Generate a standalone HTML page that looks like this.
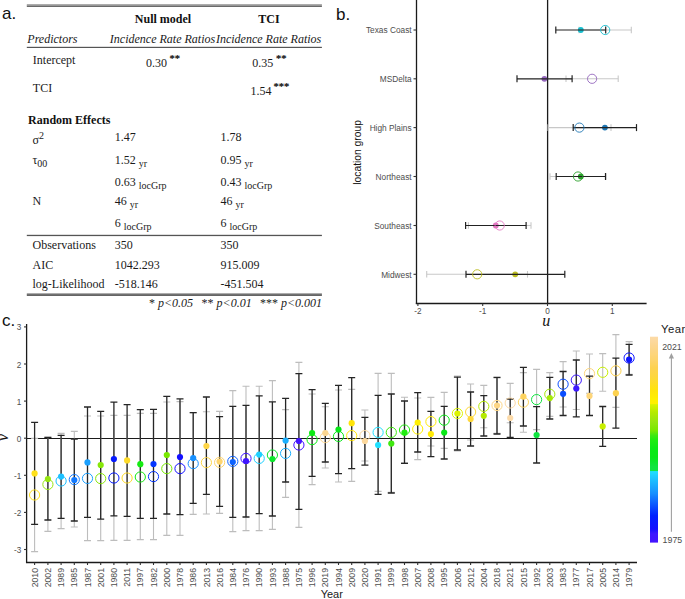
<!DOCTYPE html>
<html><head><meta charset="utf-8"><style>
html,body{margin:0;padding:0;background:#fff;width:685px;height:599px;overflow:hidden}
svg{display:block}
.t{font-family:"Liberation Serif",serif;font-size:12px;fill:#1a1a1a}
.tb{font-family:"Liberation Serif",serif;font-size:12px;font-weight:bold;fill:#111}
.ti{font-family:"Liberation Serif",serif;font-size:12px;font-style:italic;fill:#1a1a1a}
.ts{font-family:"Liberation Serif",serif;font-size:10.5px;fill:#1a1a1a;stroke:#1a1a1a;stroke-width:0.25}
.tf{font-family:"Liberation Serif",serif;font-size:12px;fill:#1a1a1a}
.lab{font-family:"Liberation Sans",sans-serif;font-size:17px;fill:#111}
.tk{font-family:"Liberation Sans",sans-serif;font-size:8.2px;fill:#4d4d4d}
.tk2{font-family:"Liberation Sans",sans-serif;font-size:8.7px;fill:#4d4d4d}
.tk3{font-family:"Liberation Sans",sans-serif;font-size:8.3px;fill:#4d4d4d}
.axt{font-family:"Liberation Serif",serif;font-size:16px;font-style:italic;fill:#111}
.axs{font-family:"Liberation Sans",sans-serif;font-size:10.3px;fill:#111}
.axs2{font-family:"Liberation Sans",sans-serif;font-size:11px;fill:#1a1a1a}
.ax{stroke:#1a1a1a;stroke-width:1.3;fill:none}
.tkl{stroke:#333;stroke-width:1.1}
</style></head><body>
<svg width="685" height="599" viewBox="0 0 685 599">
<text x="2" y="19" class="lab">a.</text>
<rect x="26.8" y="4.1" width="295.1" height="1.6" fill="#a3a3a3"/>
<rect x="26.8" y="5.6" width="295.1" height="1.3" fill="#5a5a5a"/>
<rect x="26.8" y="46.8" width="295.1" height="1.2" fill="#555"/>
<rect x="26.8" y="234.8" width="295.1" height="1.3" fill="#555"/>
<rect x="26.8" y="293.1" width="295.1" height="1.2" fill="#a3a3a3"/>
<rect x="26.8" y="294.2" width="295.1" height="1.7" fill="#555"/>
<text x="163" y="23.1" class="tb" text-anchor="middle">Null model</text>
<text x="269" y="23.1" class="tb" text-anchor="middle">TCI</text>
<text x="27.3" y="43" class="ti">Predictors</text>
<text x="162.5" y="43" class="ti" text-anchor="middle">Incidence Rate Ratios</text>
<text x="268.6" y="43" class="ti" text-anchor="middle">Incidence Rate Ratios</text>
<text x="32.8" y="64.1" class="t">Intercept</text>
<text x="145.9" y="66.9" class="t">0.30</text>
<text x="169.6" y="61.5" class="ts">**</text>
<text x="252.2" y="66.9" class="t">0.35</text>
<text x="275.9" y="61.5" class="ts">**</text>
<text x="32.8" y="92.1" class="t">TCI</text>
<text x="250.6" y="95" class="t">1.54</text>
<text x="273.4" y="89.5" class="ts">***</text>
<text x="28.1" y="124.1" class="tb">Random Effects</text>
<text x="32.5" y="143.7" class="t">σ<tspan dy="-5" font-size="10">2</tspan></text>
<text x="114.8" y="141.2" class="t">1.47</text>
<text x="220.6" y="141.2" class="t">1.78</text>
<text x="32.5" y="163.8" class="t">τ<tspan dy="3" font-size="10">00</tspan></text>
<text x="114.8" y="163.9" class="t">1.52 <tspan dy="3" font-size="10">yr</tspan></text>
<text x="220.6" y="163.9" class="t">0.95 <tspan dy="3" font-size="10">yr</tspan></text>
<text x="114.8" y="185.5" class="t">0.63 <tspan dy="3" font-size="10">locGrp</tspan></text>
<text x="220.6" y="185.5" class="t">0.43 <tspan dy="3" font-size="10">locGrp</tspan></text>
<text x="32.5" y="204.6" class="t">N</text>
<text x="114.8" y="204.6" class="t">46 <tspan dy="3" font-size="10">yr</tspan></text>
<text x="220.6" y="204.6" class="t">46 <tspan dy="3" font-size="10">yr</tspan></text>
<text x="114.8" y="226.8" class="t">6 <tspan dy="3" font-size="10">locGrp</tspan></text>
<text x="220.6" y="226.8" class="t">6 <tspan dy="3" font-size="10">locGrp</tspan></text>
<text x="32.5" y="249.4" class="t">Observations</text>
<text x="114.8" y="249.4" class="t">350</text>
<text x="220.6" y="249.4" class="t">350</text>
<text x="32.5" y="269" class="t">AIC</text>
<text x="114.8" y="269" class="t">1042.293</text>
<text x="220.6" y="269" class="t">915.009</text>
<text x="32.5" y="288.3" class="t">log-Likelihood</text>
<text x="114.8" y="288.3" class="t">-518.146</text>
<text x="220.6" y="288.3" class="t">-451.504</text>
<text x="149" y="307" class="tf">* <tspan font-style="italic">p&lt;0.05</tspan></text>
<text x="201.6" y="307" class="tf">** <tspan font-style="italic">p&lt;0.01</tspan></text>
<text x="260" y="307" class="tf">*** <tspan font-style="italic">p&lt;0.001</tspan></text>
<text x="336" y="19.5" class="lab">b.</text>
<line x1="416.5" y1="0" x2="416.5" y2="304.1" class="ax"/>
<line x1="415.85" y1="303.5" x2="646.6" y2="303.5" class="ax"/>
<line x1="547.6" y1="0" x2="547.6" y2="303.5" class="ax"/>
<text x="411.6" y="33.4" class="tk3" text-anchor="end">Texas Coast</text>
<line x1="413.5" y1="30.0" x2="416.5" y2="30.0" class="tkl"/>
<g stroke="#c8c8c8" stroke-width="1.1"><line x1="579.0" y1="30.0" x2="631.3" y2="30.0"/><line x1="579.0" y1="26.7" x2="579.0" y2="33.3"/><line x1="631.3" y1="26.7" x2="631.3" y2="33.3"/></g>
<circle cx="580.8" cy="30.0" r="2.9" fill="#17becf"/>
<g stroke="#222" stroke-width="1.2"><line x1="555.8" y1="30.0" x2="605.7" y2="30.0"/><line x1="555.8" y1="26.5" x2="555.8" y2="33.5"/><line x1="605.7" y1="26.5" x2="605.7" y2="33.5"/></g>
<circle cx="605.2" cy="30.0" r="4.6" fill="none" stroke="#17becf" stroke-width="0.9"/>
<text x="411.6" y="82.2" class="tk3" text-anchor="end">MSDelta</text>
<line x1="413.5" y1="78.8" x2="416.5" y2="78.8" class="tkl"/>
<g stroke="#c8c8c8" stroke-width="1.1"><line x1="566.0" y1="78.8" x2="618.2" y2="78.8"/><line x1="566.0" y1="75.5" x2="566.0" y2="82.1"/><line x1="618.2" y1="75.5" x2="618.2" y2="82.1"/></g>
<circle cx="544.4" cy="78.8" r="2.9" fill="#9467bd"/>
<g stroke="#222" stroke-width="1.2"><line x1="517.0" y1="78.8" x2="572.1" y2="78.8"/><line x1="517.0" y1="75.3" x2="517.0" y2="82.3"/><line x1="572.1" y1="75.3" x2="572.1" y2="82.3"/></g>
<circle cx="592.1" cy="78.8" r="4.6" fill="none" stroke="#9467bd" stroke-width="0.9"/>
<text x="411.6" y="131.0" class="tk3" text-anchor="end">High Plains</text>
<line x1="413.5" y1="127.6" x2="416.5" y2="127.6" class="tkl"/>
<g stroke="#c8c8c8" stroke-width="1.1"><line x1="548.0" y1="127.6" x2="611.0" y2="127.6"/><line x1="548.0" y1="124.3" x2="548.0" y2="130.9"/><line x1="611.0" y1="124.3" x2="611.0" y2="130.9"/></g>
<circle cx="604.9" cy="127.6" r="2.9" fill="#1f77b4"/>
<g stroke="#222" stroke-width="1.2"><line x1="573.2" y1="127.6" x2="636.5" y2="127.6"/><line x1="573.2" y1="124.1" x2="573.2" y2="131.1"/><line x1="636.5" y1="124.1" x2="636.5" y2="131.1"/></g>
<circle cx="579.4" cy="127.6" r="4.6" fill="none" stroke="#1f77b4" stroke-width="0.9"/>
<text x="411.6" y="179.9" class="tk3" text-anchor="end">Northeast</text>
<line x1="413.5" y1="176.5" x2="416.5" y2="176.5" class="tkl"/>
<g stroke="#c8c8c8" stroke-width="1.1"><line x1="550.0" y1="176.5" x2="606.0" y2="176.5"/><line x1="550.0" y1="173.2" x2="550.0" y2="179.8"/><line x1="606.0" y1="173.2" x2="606.0" y2="179.8"/></g>
<circle cx="580.8" cy="176.5" r="2.9" fill="#2ca02c"/>
<g stroke="#222" stroke-width="1.2"><line x1="556.2" y1="176.5" x2="605.5" y2="176.5"/><line x1="556.2" y1="173.0" x2="556.2" y2="180.0"/><line x1="605.5" y1="173.0" x2="605.5" y2="180.0"/></g>
<circle cx="578.0" cy="176.5" r="4.6" fill="none" stroke="#2ca02c" stroke-width="0.9"/>
<text x="411.6" y="228.9" class="tk3" text-anchor="end">Southeast</text>
<line x1="413.5" y1="225.5" x2="416.5" y2="225.5" class="tkl"/>
<g stroke="#c8c8c8" stroke-width="1.1"><line x1="468.4" y1="225.5" x2="531.0" y2="225.5"/><line x1="468.4" y1="222.2" x2="468.4" y2="228.8"/><line x1="531.0" y1="222.2" x2="531.0" y2="228.8"/></g>
<circle cx="495.8" cy="225.5" r="2.9" fill="#e377c2"/>
<g stroke="#222" stroke-width="1.2"><line x1="465.6" y1="225.5" x2="526.1" y2="225.5"/><line x1="465.6" y1="222.0" x2="465.6" y2="229.0"/><line x1="526.1" y1="222.0" x2="526.1" y2="229.0"/></g>
<circle cx="499.7" cy="225.5" r="4.6" fill="none" stroke="#e377c2" stroke-width="0.9"/>
<text x="411.6" y="277.7" class="tk3" text-anchor="end">Midwest</text>
<line x1="413.5" y1="274.3" x2="416.5" y2="274.3" class="tkl"/>
<g stroke="#c8c8c8" stroke-width="1.1"><line x1="426.7" y1="274.3" x2="527.5" y2="274.3"/><line x1="426.7" y1="271.0" x2="426.7" y2="277.6"/><line x1="527.5" y1="271.0" x2="527.5" y2="277.6"/></g>
<circle cx="515.2" cy="274.3" r="2.9" fill="#bcbd22"/>
<g stroke="#222" stroke-width="1.2"><line x1="466.0" y1="274.3" x2="564.8" y2="274.3"/><line x1="466.0" y1="270.8" x2="466.0" y2="277.8"/><line x1="564.8" y1="270.8" x2="564.8" y2="277.8"/></g>
<circle cx="477.2" cy="274.3" r="4.6" fill="none" stroke="#bcbd22" stroke-width="0.9"/>
<line x1="417.9" y1="303.5" x2="417.9" y2="306" class="tkl"/>
<text x="417.9" y="314" class="tk" text-anchor="middle">-2</text>
<line x1="482.7" y1="303.5" x2="482.7" y2="306" class="tkl"/>
<text x="482.7" y="314" class="tk" text-anchor="middle">-1</text>
<line x1="547.5" y1="303.5" x2="547.5" y2="306" class="tkl"/>
<text x="547.5" y="314" class="tk" text-anchor="middle">0</text>
<line x1="612.3" y1="303.5" x2="612.3" y2="306" class="tkl"/>
<text x="612.3" y="314" class="tk" text-anchor="middle">1</text>
<text x="546.3" y="326.3" class="axt" text-anchor="middle">u</text>
<text transform="translate(360.9,152.4) rotate(-90)" class="axs" text-anchor="middle">location group</text>
<text x="2" y="326" class="lab">c.</text>
<line x1="26.6" y1="324" x2="26.6" y2="563" class="ax"/>
<line x1="26" y1="562.5" x2="637" y2="562.5" class="ax"/>
<line x1="26.6" y1="438.5" x2="637" y2="438.5" stroke="#1a1a1a" stroke-width="1.05"/>
<line x1="24" y1="326.9" x2="26.6" y2="326.9" class="tkl"/>
<text x="21.4" y="330.4" class="tk" text-anchor="end">3</text>
<line x1="24" y1="364.0" x2="26.6" y2="364.0" class="tkl"/>
<text x="21.4" y="367.5" class="tk" text-anchor="end">2</text>
<line x1="24" y1="401.1" x2="26.6" y2="401.1" class="tkl"/>
<text x="21.4" y="404.6" class="tk" text-anchor="end">1</text>
<line x1="24" y1="438.2" x2="26.6" y2="438.2" class="tkl"/>
<text x="21.4" y="441.7" class="tk" text-anchor="end">0</text>
<line x1="24" y1="475.3" x2="26.6" y2="475.3" class="tkl"/>
<text x="21.4" y="478.8" class="tk" text-anchor="end">-1</text>
<line x1="24" y1="512.4" x2="26.6" y2="512.4" class="tkl"/>
<text x="21.4" y="515.9" class="tk" text-anchor="end">-2</text>
<line x1="24" y1="549.5" x2="26.6" y2="549.5" class="tkl"/>
<text x="21.4" y="553.0" class="tk" text-anchor="end">-3</text>
<text transform="translate(8.3,437.4) rotate(-90)" class="axt" text-anchor="middle">v</text>
<line x1="34.6" y1="562.5" x2="34.6" y2="565" class="tkl"/>
<text transform="translate(37.8,568) rotate(-90)" class="tk2" text-anchor="end">2010</text>
<line x1="47.9" y1="562.5" x2="47.9" y2="565" class="tkl"/>
<text transform="translate(51.0,568) rotate(-90)" class="tk2" text-anchor="end">2002</text>
<line x1="61.1" y1="562.5" x2="61.1" y2="565" class="tkl"/>
<text transform="translate(64.2,568) rotate(-90)" class="tk2" text-anchor="end">1989</text>
<line x1="74.3" y1="562.5" x2="74.3" y2="565" class="tkl"/>
<text transform="translate(77.4,568) rotate(-90)" class="tk2" text-anchor="end">1985</text>
<line x1="87.5" y1="562.5" x2="87.5" y2="565" class="tkl"/>
<text transform="translate(90.6,568) rotate(-90)" class="tk2" text-anchor="end">1987</text>
<line x1="100.7" y1="562.5" x2="100.7" y2="565" class="tkl"/>
<text transform="translate(103.8,568) rotate(-90)" class="tk2" text-anchor="end">2001</text>
<line x1="113.9" y1="562.5" x2="113.9" y2="565" class="tkl"/>
<text transform="translate(117.0,568) rotate(-90)" class="tk2" text-anchor="end">1980</text>
<line x1="127.1" y1="562.5" x2="127.1" y2="565" class="tkl"/>
<text transform="translate(130.2,568) rotate(-90)" class="tk2" text-anchor="end">2011</text>
<line x1="140.3" y1="562.5" x2="140.3" y2="565" class="tkl"/>
<text transform="translate(143.4,568) rotate(-90)" class="tk2" text-anchor="end">1997</text>
<line x1="153.5" y1="562.5" x2="153.5" y2="565" class="tkl"/>
<text transform="translate(156.6,568) rotate(-90)" class="tk2" text-anchor="end">1982</text>
<line x1="166.8" y1="562.5" x2="166.8" y2="565" class="tkl"/>
<text transform="translate(169.9,568) rotate(-90)" class="tk2" text-anchor="end">2000</text>
<line x1="180.0" y1="562.5" x2="180.0" y2="565" class="tkl"/>
<text transform="translate(183.1,568) rotate(-90)" class="tk2" text-anchor="end">1978</text>
<line x1="193.2" y1="562.5" x2="193.2" y2="565" class="tkl"/>
<text transform="translate(196.3,568) rotate(-90)" class="tk2" text-anchor="end">1986</text>
<line x1="206.4" y1="562.5" x2="206.4" y2="565" class="tkl"/>
<text transform="translate(209.5,568) rotate(-90)" class="tk2" text-anchor="end">2013</text>
<line x1="219.6" y1="562.5" x2="219.6" y2="565" class="tkl"/>
<text transform="translate(222.7,568) rotate(-90)" class="tk2" text-anchor="end">2016</text>
<line x1="232.8" y1="562.5" x2="232.8" y2="565" class="tkl"/>
<text transform="translate(235.9,568) rotate(-90)" class="tk2" text-anchor="end">1984</text>
<line x1="246.0" y1="562.5" x2="246.0" y2="565" class="tkl"/>
<text transform="translate(249.1,568) rotate(-90)" class="tk2" text-anchor="end">1976</text>
<line x1="259.2" y1="562.5" x2="259.2" y2="565" class="tkl"/>
<text transform="translate(262.3,568) rotate(-90)" class="tk2" text-anchor="end">1990</text>
<line x1="272.4" y1="562.5" x2="272.4" y2="565" class="tkl"/>
<text transform="translate(275.5,568) rotate(-90)" class="tk2" text-anchor="end">1993</text>
<line x1="285.6" y1="562.5" x2="285.6" y2="565" class="tkl"/>
<text transform="translate(288.7,568) rotate(-90)" class="tk2" text-anchor="end">1988</text>
<line x1="298.9" y1="562.5" x2="298.9" y2="565" class="tkl"/>
<text transform="translate(302.0,568) rotate(-90)" class="tk2" text-anchor="end">1975</text>
<line x1="312.1" y1="562.5" x2="312.1" y2="565" class="tkl"/>
<text transform="translate(315.2,568) rotate(-90)" class="tk2" text-anchor="end">1996</text>
<line x1="325.3" y1="562.5" x2="325.3" y2="565" class="tkl"/>
<text transform="translate(328.4,568) rotate(-90)" class="tk2" text-anchor="end">2019</text>
<line x1="338.5" y1="562.5" x2="338.5" y2="565" class="tkl"/>
<text transform="translate(341.6,568) rotate(-90)" class="tk2" text-anchor="end">1994</text>
<line x1="351.7" y1="562.5" x2="351.7" y2="565" class="tkl"/>
<text transform="translate(354.8,568) rotate(-90)" class="tk2" text-anchor="end">2009</text>
<line x1="364.9" y1="562.5" x2="364.9" y2="565" class="tkl"/>
<text transform="translate(368.0,568) rotate(-90)" class="tk2" text-anchor="end">2020</text>
<line x1="378.1" y1="562.5" x2="378.1" y2="565" class="tkl"/>
<text transform="translate(381.2,568) rotate(-90)" class="tk2" text-anchor="end">1991</text>
<line x1="391.3" y1="562.5" x2="391.3" y2="565" class="tkl"/>
<text transform="translate(394.4,568) rotate(-90)" class="tk2" text-anchor="end">1999</text>
<line x1="404.5" y1="562.5" x2="404.5" y2="565" class="tkl"/>
<text transform="translate(407.6,568) rotate(-90)" class="tk2" text-anchor="end">1998</text>
<line x1="417.7" y1="562.5" x2="417.7" y2="565" class="tkl"/>
<text transform="translate(420.8,568) rotate(-90)" class="tk2" text-anchor="end">2007</text>
<line x1="430.9" y1="562.5" x2="430.9" y2="565" class="tkl"/>
<text transform="translate(434.1,568) rotate(-90)" class="tk2" text-anchor="end">2008</text>
<line x1="444.2" y1="562.5" x2="444.2" y2="565" class="tkl"/>
<text transform="translate(447.3,568) rotate(-90)" class="tk2" text-anchor="end">1995</text>
<line x1="457.4" y1="562.5" x2="457.4" y2="565" class="tkl"/>
<text transform="translate(460.5,568) rotate(-90)" class="tk2" text-anchor="end">2006</text>
<line x1="470.6" y1="562.5" x2="470.6" y2="565" class="tkl"/>
<text transform="translate(473.7,568) rotate(-90)" class="tk2" text-anchor="end">2012</text>
<line x1="483.8" y1="562.5" x2="483.8" y2="565" class="tkl"/>
<text transform="translate(486.9,568) rotate(-90)" class="tk2" text-anchor="end">2004</text>
<line x1="497.0" y1="562.5" x2="497.0" y2="565" class="tkl"/>
<text transform="translate(500.1,568) rotate(-90)" class="tk2" text-anchor="end">2018</text>
<line x1="510.2" y1="562.5" x2="510.2" y2="565" class="tkl"/>
<text transform="translate(513.3,568) rotate(-90)" class="tk2" text-anchor="end">2021</text>
<line x1="523.4" y1="562.5" x2="523.4" y2="565" class="tkl"/>
<text transform="translate(526.5,568) rotate(-90)" class="tk2" text-anchor="end">2015</text>
<line x1="536.6" y1="562.5" x2="536.6" y2="565" class="tkl"/>
<text transform="translate(539.7,568) rotate(-90)" class="tk2" text-anchor="end">1992</text>
<line x1="549.8" y1="562.5" x2="549.8" y2="565" class="tkl"/>
<text transform="translate(552.9,568) rotate(-90)" class="tk2" text-anchor="end">2003</text>
<line x1="563.1" y1="562.5" x2="563.1" y2="565" class="tkl"/>
<text transform="translate(566.2,568) rotate(-90)" class="tk2" text-anchor="end">1983</text>
<line x1="576.3" y1="562.5" x2="576.3" y2="565" class="tkl"/>
<text transform="translate(579.4,568) rotate(-90)" class="tk2" text-anchor="end">1977</text>
<line x1="589.5" y1="562.5" x2="589.5" y2="565" class="tkl"/>
<text transform="translate(592.6,568) rotate(-90)" class="tk2" text-anchor="end">2017</text>
<line x1="602.7" y1="562.5" x2="602.7" y2="565" class="tkl"/>
<text transform="translate(605.8,568) rotate(-90)" class="tk2" text-anchor="end">2005</text>
<line x1="615.9" y1="562.5" x2="615.9" y2="565" class="tkl"/>
<text transform="translate(619.0,568) rotate(-90)" class="tk2" text-anchor="end">2014</text>
<line x1="629.1" y1="562.5" x2="629.1" y2="565" class="tkl"/>
<text transform="translate(632.2,568) rotate(-90)" class="tk2" text-anchor="end">1979</text>
<path d="M34.6 438.4V551.6M31.1 438.4h7M31.1 551.6h7" stroke="#bdbdbd" stroke-width="1.1" fill="none"/>
<path d="M47.9 437.4V531.4M44.4 437.4h7M44.4 531.4h7" stroke="#bdbdbd" stroke-width="1.1" fill="none"/>
<path d="M61.1 433.4V528.6M57.6 433.4h7M57.6 528.6h7" stroke="#bdbdbd" stroke-width="1.1" fill="none"/>
<path d="M74.3 431.4V527.0M70.8 431.4h7M70.8 527.0h7" stroke="#bdbdbd" stroke-width="1.1" fill="none"/>
<path d="M87.5 416.0V540.6M84.0 416.0h7M84.0 540.6h7" stroke="#bdbdbd" stroke-width="1.1" fill="none"/>
<path d="M100.7 416.0V540.6M97.2 416.0h7M97.2 540.6h7" stroke="#bdbdbd" stroke-width="1.1" fill="none"/>
<path d="M113.9 415.4V540.4M110.4 415.4h7M110.4 540.4h7" stroke="#bdbdbd" stroke-width="1.1" fill="none"/>
<path d="M127.1 415.4V540.4M123.6 415.4h7M123.6 540.4h7" stroke="#bdbdbd" stroke-width="1.1" fill="none"/>
<path d="M140.3 413.4V539.6M136.8 413.4h7M136.8 539.6h7" stroke="#bdbdbd" stroke-width="1.1" fill="none"/>
<path d="M153.5 413.4V539.6M150.0 413.4h7M150.0 539.6h7" stroke="#bdbdbd" stroke-width="1.1" fill="none"/>
<path d="M166.8 402.0V535.4M163.3 402.0h7M163.3 535.4h7" stroke="#bdbdbd" stroke-width="1.1" fill="none"/>
<path d="M180.0 401.6V535.4M176.5 401.6h7M176.5 535.4h7" stroke="#bdbdbd" stroke-width="1.1" fill="none"/>
<path d="M193.2 412.8V514.4M189.7 412.8h7M189.7 514.4h7" stroke="#bdbdbd" stroke-width="1.1" fill="none"/>
<path d="M206.4 411.8V514.0M202.9 411.8h7M202.9 514.0h7" stroke="#bdbdbd" stroke-width="1.1" fill="none"/>
<path d="M219.6 411.4V513.4M216.1 411.4h7M216.1 513.4h7" stroke="#bdbdbd" stroke-width="1.1" fill="none"/>
<path d="M232.8 390.6V531.6M229.3 390.6h7M229.3 531.6h7" stroke="#bdbdbd" stroke-width="1.1" fill="none"/>
<path d="M246.0 386.2V530.6M242.5 386.2h7M242.5 530.6h7" stroke="#bdbdbd" stroke-width="1.1" fill="none"/>
<path d="M259.2 386.2V530.6M255.7 386.2h7M255.7 530.6h7" stroke="#bdbdbd" stroke-width="1.1" fill="none"/>
<path d="M272.4 380.6V529.4M268.9 380.6h7M268.9 529.4h7" stroke="#bdbdbd" stroke-width="1.1" fill="none"/>
<path d="M285.6 409.6V497.4M282.1 409.6h7M282.1 497.4h7" stroke="#bdbdbd" stroke-width="1.1" fill="none"/>
<path d="M298.9 362.4V527.4M295.4 362.4h7M295.4 527.4h7" stroke="#bdbdbd" stroke-width="1.1" fill="none"/>
<path d="M312.1 394.0V484.6M308.6 394.0h7M308.6 484.6h7" stroke="#bdbdbd" stroke-width="1.1" fill="none"/>
<path d="M325.3 406.8V468.0M321.8 406.8h7M321.8 468.0h7" stroke="#bdbdbd" stroke-width="1.1" fill="none"/>
<path d="M338.5 390.0V482.0M335.0 390.0h7M335.0 482.0h7" stroke="#bdbdbd" stroke-width="1.1" fill="none"/>
<path d="M351.7 389.4V481.4M348.2 389.4h7M348.2 481.4h7" stroke="#bdbdbd" stroke-width="1.1" fill="none"/>
<path d="M364.9 410.0V461.0M361.4 410.0h7M361.4 461.0h7" stroke="#bdbdbd" stroke-width="1.1" fill="none"/>
<path d="M378.1 373.4V491.4M374.6 373.4h7M374.6 491.4h7" stroke="#bdbdbd" stroke-width="1.1" fill="none"/>
<path d="M391.3 373.4V492.4M387.8 373.4h7M387.8 492.4h7" stroke="#bdbdbd" stroke-width="1.1" fill="none"/>
<path d="M404.5 397.2V462.8M401.0 397.2h7M401.0 462.8h7" stroke="#bdbdbd" stroke-width="1.1" fill="none"/>
<path d="M417.7 398.0V459.6M414.2 398.0h7M414.2 459.6h7" stroke="#bdbdbd" stroke-width="1.1" fill="none"/>
<path d="M430.9 397.4V446.0M427.4 397.4h7M427.4 446.0h7" stroke="#bdbdbd" stroke-width="1.1" fill="none"/>
<path d="M444.2 392.4V448.4M440.7 392.4h7M440.7 448.4h7" stroke="#bdbdbd" stroke-width="1.1" fill="none"/>
<path d="M457.4 376.0V451.0M453.9 376.0h7M453.9 451.0h7" stroke="#bdbdbd" stroke-width="1.1" fill="none"/>
<path d="M470.6 384.0V440.0M467.1 384.0h7M467.1 440.0h7" stroke="#bdbdbd" stroke-width="1.1" fill="none"/>
<path d="M483.8 385.4V427.8M480.3 385.4h7M480.3 427.8h7" stroke="#bdbdbd" stroke-width="1.1" fill="none"/>
<path d="M497.0 378.0V433.4M493.5 378.0h7M493.5 433.4h7" stroke="#bdbdbd" stroke-width="1.1" fill="none"/>
<path d="M510.2 383.4V422.8M506.7 383.4h7M506.7 422.8h7" stroke="#bdbdbd" stroke-width="1.1" fill="none"/>
<path d="M523.4 372.6V432.2M519.9 372.6h7M519.9 432.2h7" stroke="#bdbdbd" stroke-width="1.1" fill="none"/>
<path d="M536.6 369.4V429.6M533.1 369.4h7M533.1 429.6h7" stroke="#bdbdbd" stroke-width="1.1" fill="none"/>
<path d="M549.8 372.6V416.4M546.3 372.6h7M546.3 416.4h7" stroke="#bdbdbd" stroke-width="1.1" fill="none"/>
<path d="M563.1 361.6V407.0M559.6 361.6h7M559.6 407.0h7" stroke="#bdbdbd" stroke-width="1.1" fill="none"/>
<path d="M576.3 351.0V409.5M572.8 351.0h7M572.8 409.5h7" stroke="#bdbdbd" stroke-width="1.1" fill="none"/>
<path d="M589.5 354.0V393.2M586.0 354.0h7M586.0 393.2h7" stroke="#bdbdbd" stroke-width="1.1" fill="none"/>
<path d="M602.7 353.6V391.3M599.2 353.6h7M599.2 391.3h7" stroke="#bdbdbd" stroke-width="1.1" fill="none"/>
<path d="M615.9 334.6V407.4M612.4 334.6h7M612.4 407.4h7" stroke="#bdbdbd" stroke-width="1.1" fill="none"/>
<path d="M629.1 341.6V374.4M625.6 341.6h7M625.6 374.4h7" stroke="#bdbdbd" stroke-width="1.1" fill="none"/>
<path d="M34.6 422.4V524.4M31.1 422.4h7M31.1 524.4h7" stroke="#262626" stroke-width="1.3" fill="none"/>
<path d="M47.9 437.4V520.0M44.4 437.4h7M44.4 520.0h7" stroke="#262626" stroke-width="1.3" fill="none"/>
<path d="M61.1 435.4V518.4M57.6 435.4h7M57.6 518.4h7" stroke="#262626" stroke-width="1.3" fill="none"/>
<path d="M74.3 439.0V521.0M70.8 439.0h7M70.8 521.0h7" stroke="#262626" stroke-width="1.3" fill="none"/>
<path d="M87.5 407.0V517.4M84.0 407.0h7M84.0 517.4h7" stroke="#262626" stroke-width="1.3" fill="none"/>
<path d="M100.7 411.4V519.2M97.2 411.4h7M97.2 519.2h7" stroke="#262626" stroke-width="1.3" fill="none"/>
<path d="M113.9 402.2V515.8M110.4 402.2h7M110.4 515.8h7" stroke="#262626" stroke-width="1.3" fill="none"/>
<path d="M127.1 404.6V516.4M123.6 404.6h7M123.6 516.4h7" stroke="#262626" stroke-width="1.3" fill="none"/>
<path d="M140.3 409.6V518.4M136.8 409.6h7M136.8 518.4h7" stroke="#262626" stroke-width="1.3" fill="none"/>
<path d="M153.5 409.4V518.4M150.0 409.4h7M150.0 518.4h7" stroke="#262626" stroke-width="1.3" fill="none"/>
<path d="M166.8 396.4V514.0M163.3 396.4h7M163.3 514.0h7" stroke="#262626" stroke-width="1.3" fill="none"/>
<path d="M180.0 398.8V514.6M176.5 398.8h7M176.5 514.6h7" stroke="#262626" stroke-width="1.3" fill="none"/>
<path d="M193.2 412.6V503.4M189.7 412.6h7M189.7 503.4h7" stroke="#262626" stroke-width="1.3" fill="none"/>
<path d="M206.4 397.0V494.4M202.9 397.0h7M202.9 494.4h7" stroke="#262626" stroke-width="1.3" fill="none"/>
<path d="M219.6 416.6V506.4M216.1 416.6h7M216.1 506.4h7" stroke="#262626" stroke-width="1.3" fill="none"/>
<path d="M232.8 406.4V517.4M229.3 406.4h7M229.3 517.4h7" stroke="#262626" stroke-width="1.3" fill="none"/>
<path d="M246.0 405.4V517.0M242.5 405.4h7M242.5 517.0h7" stroke="#262626" stroke-width="1.3" fill="none"/>
<path d="M259.2 395.8V513.6M255.7 395.8h7M255.7 513.6h7" stroke="#262626" stroke-width="1.3" fill="none"/>
<path d="M272.4 401.8V516.0M268.9 401.8h7M268.9 516.0h7" stroke="#262626" stroke-width="1.3" fill="none"/>
<path d="M285.6 398.4V482.0M282.1 398.4h7M282.1 482.0h7" stroke="#262626" stroke-width="1.3" fill="none"/>
<path d="M298.9 373.6V509.4M295.4 373.6h7M295.4 509.4h7" stroke="#262626" stroke-width="1.3" fill="none"/>
<path d="M312.1 389.6V476.4M308.6 389.6h7M308.6 476.4h7" stroke="#262626" stroke-width="1.3" fill="none"/>
<path d="M325.3 403.4V462.0M321.8 403.4h7M321.8 462.0h7" stroke="#262626" stroke-width="1.3" fill="none"/>
<path d="M338.5 385.4V473.6M335.0 385.4h7M335.0 473.6h7" stroke="#262626" stroke-width="1.3" fill="none"/>
<path d="M351.7 377.6V468.6M348.2 377.6h7M348.2 468.6h7" stroke="#262626" stroke-width="1.3" fill="none"/>
<path d="M364.9 417.4V465.2M361.4 417.4h7M361.4 465.2h7" stroke="#262626" stroke-width="1.3" fill="none"/>
<path d="M378.1 395.4V494.4M374.6 395.4h7M374.6 494.4h7" stroke="#262626" stroke-width="1.3" fill="none"/>
<path d="M391.3 394.0V493.0M387.8 394.0h7M387.8 493.0h7" stroke="#262626" stroke-width="1.3" fill="none"/>
<path d="M404.5 401.0V463.4M401.0 401.0h7M401.0 463.4h7" stroke="#262626" stroke-width="1.3" fill="none"/>
<path d="M417.7 392.6V452.0M414.2 392.6h7M414.2 452.0h7" stroke="#262626" stroke-width="1.3" fill="none"/>
<path d="M430.9 411.4V456.6M427.4 411.4h7M427.4 456.6h7" stroke="#262626" stroke-width="1.3" fill="none"/>
<path d="M444.2 406.4V459.0M440.7 406.4h7M440.7 459.0h7" stroke="#262626" stroke-width="1.3" fill="none"/>
<path d="M457.4 377.2V450.0M453.9 377.2h7M453.9 450.0h7" stroke="#262626" stroke-width="1.3" fill="none"/>
<path d="M470.6 392.0V446.0M467.1 392.0h7M467.1 446.0h7" stroke="#262626" stroke-width="1.3" fill="none"/>
<path d="M483.8 395.6V436.0M480.3 395.6h7M480.3 436.0h7" stroke="#262626" stroke-width="1.3" fill="none"/>
<path d="M497.0 377.4V434.0M493.5 377.4h7M493.5 434.0h7" stroke="#262626" stroke-width="1.3" fill="none"/>
<path d="M510.2 399.0V437.4M506.7 399.0h7M506.7 437.4h7" stroke="#262626" stroke-width="1.3" fill="none"/>
<path d="M523.4 367.4V426.0M519.9 367.4h7M519.9 426.0h7" stroke="#262626" stroke-width="1.3" fill="none"/>
<path d="M536.6 406.6V463.0M533.1 406.6h7M533.1 463.0h7" stroke="#262626" stroke-width="1.3" fill="none"/>
<path d="M549.8 377.4V419.0M546.3 377.4h7M546.3 419.0h7" stroke="#262626" stroke-width="1.3" fill="none"/>
<path d="M563.1 371.5V415.5M559.6 371.5h7M559.6 415.5h7" stroke="#262626" stroke-width="1.3" fill="none"/>
<path d="M576.3 360.0V416.8M572.8 360.0h7M572.8 416.8h7" stroke="#262626" stroke-width="1.3" fill="none"/>
<path d="M589.5 376.2V415.5M586.0 376.2h7M586.0 415.5h7" stroke="#262626" stroke-width="1.3" fill="none"/>
<path d="M602.7 406.5V446.4M599.2 406.5h7M599.2 446.4h7" stroke="#262626" stroke-width="1.3" fill="none"/>
<path d="M615.9 358.2V428.2M612.4 358.2h7M612.4 428.2h7" stroke="#262626" stroke-width="1.3" fill="none"/>
<path d="M629.1 344.4V375.0M625.6 344.4h7M625.6 375.0h7" stroke="#262626" stroke-width="1.3" fill="none"/>
<circle cx="34.6" cy="495.0" r="5.1" fill="none" stroke="#fee01b" stroke-width="1"/>
<circle cx="34.6" cy="473.4" r="3.1" fill="#fee01b"/>
<circle cx="47.9" cy="484.4" r="5.1" fill="none" stroke="#96e610" stroke-width="1"/>
<circle cx="47.9" cy="479.0" r="3.1" fill="#96e610"/>
<circle cx="61.1" cy="481.0" r="5.1" fill="none" stroke="#1dc0ff" stroke-width="1"/>
<circle cx="61.1" cy="476.6" r="3.1" fill="#1dc0ff"/>
<circle cx="74.3" cy="479.6" r="5.1" fill="none" stroke="#137aff" stroke-width="1"/>
<circle cx="74.3" cy="480.0" r="3.1" fill="#137aff"/>
<circle cx="87.5" cy="478.4" r="5.1" fill="none" stroke="#1aa0ff" stroke-width="1"/>
<circle cx="87.5" cy="462.4" r="3.1" fill="#1aa0ff"/>
<circle cx="100.7" cy="478.6" r="5.1" fill="none" stroke="#87e708" stroke-width="1"/>
<circle cx="100.7" cy="465.0" r="3.1" fill="#87e708"/>
<circle cx="113.9" cy="478.0" r="5.1" fill="none" stroke="#071bff" stroke-width="1"/>
<circle cx="113.9" cy="459.0" r="3.1" fill="#071bff"/>
<circle cx="127.1" cy="478.0" r="5.1" fill="none" stroke="#fedb2b" stroke-width="1"/>
<circle cx="127.1" cy="460.4" r="3.1" fill="#fedb2b"/>
<circle cx="140.3" cy="477.0" r="5.1" fill="none" stroke="#15eb12" stroke-width="1"/>
<circle cx="140.3" cy="464.2" r="3.1" fill="#15eb12"/>
<circle cx="153.5" cy="476.6" r="5.1" fill="none" stroke="#0536ff" stroke-width="1"/>
<circle cx="153.5" cy="464.0" r="3.1" fill="#0536ff"/>
<circle cx="166.8" cy="468.6" r="5.1" fill="none" stroke="#78e800" stroke-width="1"/>
<circle cx="166.8" cy="455.0" r="3.1" fill="#78e800"/>
<circle cx="180.0" cy="468.6" r="5.1" fill="none" stroke="#1410ff" stroke-width="1"/>
<circle cx="180.0" cy="457.0" r="3.1" fill="#1410ff"/>
<circle cx="193.2" cy="463.6" r="5.1" fill="none" stroke="#1890ff" stroke-width="1"/>
<circle cx="193.2" cy="458.0" r="3.1" fill="#1890ff"/>
<circle cx="206.4" cy="462.6" r="5.1" fill="none" stroke="#fdd446" stroke-width="1"/>
<circle cx="206.4" cy="446.0" r="3.1" fill="#fdd446"/>
<circle cx="219.6" cy="462.4" r="5.1" fill="none" stroke="#fdd46e" stroke-width="1"/>
<circle cx="219.6" cy="461.6" r="3.1" fill="#fdd46e"/>
<circle cx="232.8" cy="461.4" r="5.1" fill="none" stroke="#0e63ff" stroke-width="1"/>
<circle cx="232.8" cy="462.0" r="3.1" fill="#0e63ff"/>
<circle cx="246.0" cy="458.4" r="5.1" fill="none" stroke="#4016ff" stroke-width="1"/>
<circle cx="246.0" cy="461.0" r="3.1" fill="#4016ff"/>
<circle cx="259.2" cy="458.4" r="5.1" fill="none" stroke="#1ed0ff" stroke-width="1"/>
<circle cx="259.2" cy="454.6" r="3.1" fill="#1ed0ff"/>
<circle cx="272.4" cy="455.0" r="5.1" fill="none" stroke="#0ce62c" stroke-width="1"/>
<circle cx="272.4" cy="459.0" r="3.1" fill="#0ce62c"/>
<circle cx="285.6" cy="453.4" r="5.1" fill="none" stroke="#1bb0ff" stroke-width="1"/>
<circle cx="285.6" cy="440.6" r="3.1" fill="#1bb0ff"/>
<circle cx="298.9" cy="445.0" r="5.1" fill="none" stroke="#4414ff" stroke-width="1"/>
<circle cx="298.9" cy="441.0" r="3.1" fill="#4414ff"/>
<circle cx="312.1" cy="439.6" r="5.1" fill="none" stroke="#0aea14" stroke-width="1"/>
<circle cx="312.1" cy="433.0" r="3.1" fill="#0aea14"/>
<circle cx="325.3" cy="437.6" r="5.1" fill="none" stroke="#fcd691" stroke-width="1"/>
<circle cx="325.3" cy="433.0" r="3.1" fill="#fcd691"/>
<circle cx="338.5" cy="436.4" r="5.1" fill="none" stroke="#08e818" stroke-width="1"/>
<circle cx="338.5" cy="429.6" r="3.1" fill="#08e818"/>
<circle cx="351.7" cy="435.6" r="5.1" fill="none" stroke="#ffe40a" stroke-width="1"/>
<circle cx="351.7" cy="423.2" r="3.1" fill="#ffe40a"/>
<circle cx="364.9" cy="435.6" r="5.1" fill="none" stroke="#fcd89c" stroke-width="1"/>
<circle cx="364.9" cy="441.0" r="3.1" fill="#fcd89c"/>
<circle cx="378.1" cy="432.4" r="5.1" fill="none" stroke="#20e0ff" stroke-width="1"/>
<circle cx="378.1" cy="445.0" r="3.1" fill="#20e0ff"/>
<circle cx="391.3" cy="432.4" r="5.1" fill="none" stroke="#40e810" stroke-width="1"/>
<circle cx="391.3" cy="443.6" r="3.1" fill="#40e810"/>
<circle cx="404.5" cy="430.0" r="5.1" fill="none" stroke="#20ec10" stroke-width="1"/>
<circle cx="404.5" cy="432.6" r="3.1" fill="#20ec10"/>
<circle cx="417.7" cy="429.0" r="5.1" fill="none" stroke="#fff000" stroke-width="1"/>
<circle cx="417.7" cy="422.5" r="3.1" fill="#fff000"/>
<circle cx="430.9" cy="421.6" r="5.1" fill="none" stroke="#ffea05" stroke-width="1"/>
<circle cx="430.9" cy="434.0" r="3.1" fill="#ffea05"/>
<circle cx="444.2" cy="420.2" r="5.1" fill="none" stroke="#09e916" stroke-width="1"/>
<circle cx="444.2" cy="432.5" r="3.1" fill="#09e916"/>
<circle cx="457.4" cy="413.5" r="5.1" fill="none" stroke="#dcf400" stroke-width="1"/>
<circle cx="457.4" cy="413.5" r="3.1" fill="#dcf400"/>
<circle cx="470.6" cy="412.0" r="5.1" fill="none" stroke="#fdd73c" stroke-width="1"/>
<circle cx="470.6" cy="419.0" r="3.1" fill="#fdd73c"/>
<circle cx="483.8" cy="406.4" r="5.1" fill="none" stroke="#b4ea00" stroke-width="1"/>
<circle cx="483.8" cy="415.8" r="3.1" fill="#b4ea00"/>
<circle cx="497.0" cy="405.5" r="5.1" fill="none" stroke="#fcd585" stroke-width="1"/>
<circle cx="497.0" cy="405.5" r="3.1" fill="#fcd585"/>
<circle cx="510.2" cy="403.0" r="5.1" fill="none" stroke="#fcdaa8" stroke-width="1"/>
<circle cx="510.2" cy="418.0" r="3.1" fill="#fcdaa8"/>
<circle cx="523.4" cy="402.2" r="5.1" fill="none" stroke="#fdd35f" stroke-width="1"/>
<circle cx="523.4" cy="396.6" r="3.1" fill="#fdd35f"/>
<circle cx="536.6" cy="399.6" r="5.1" fill="none" stroke="#10e440" stroke-width="1"/>
<circle cx="536.6" cy="435.0" r="3.1" fill="#10e440"/>
<circle cx="549.8" cy="394.2" r="5.1" fill="none" stroke="#a5e808" stroke-width="1"/>
<circle cx="549.8" cy="398.1" r="3.1" fill="#a5e808"/>
<circle cx="563.1" cy="384.2" r="5.1" fill="none" stroke="#0a4dff" stroke-width="1"/>
<circle cx="563.1" cy="393.8" r="3.1" fill="#0a4dff"/>
<circle cx="576.3" cy="380.1" r="5.1" fill="none" stroke="#3c18ff" stroke-width="1"/>
<circle cx="576.3" cy="388.5" r="3.1" fill="#3c18ff"/>
<circle cx="589.5" cy="373.6" r="5.1" fill="none" stroke="#fdd57a" stroke-width="1"/>
<circle cx="589.5" cy="395.9" r="3.1" fill="#fdd57a"/>
<circle cx="602.7" cy="372.3" r="5.1" fill="none" stroke="#c8ef00" stroke-width="1"/>
<circle cx="602.7" cy="426.4" r="3.1" fill="#c8ef00"/>
<circle cx="615.9" cy="370.8" r="5.1" fill="none" stroke="#fdd250" stroke-width="1"/>
<circle cx="615.9" cy="393.2" r="3.1" fill="#fdd250"/>
<circle cx="629.1" cy="358.0" r="5.1" fill="none" stroke="#0d15ff" stroke-width="1"/>
<circle cx="629.1" cy="359.6" r="3.1" fill="#0d15ff"/>
<text x="331.8" y="597.5" class="axs2" text-anchor="middle">Year</text>
<defs><linearGradient id="lg" x1="0" y1="0" x2="0" y2="1">
<stop offset="0.0000" stop-color="#fcdaa8"/>
<stop offset="0.0050" stop-color="#fcdaa5"/>
<stop offset="0.0100" stop-color="#fcd9a3"/>
<stop offset="0.0150" stop-color="#fcd9a0"/>
<stop offset="0.0200" stop-color="#fcd89d"/>
<stop offset="0.0250" stop-color="#fcd89b"/>
<stop offset="0.0300" stop-color="#fcd798"/>
<stop offset="0.0350" stop-color="#fcd795"/>
<stop offset="0.0400" stop-color="#fcd693"/>
<stop offset="0.0450" stop-color="#fcd690"/>
<stop offset="0.0500" stop-color="#fcd68e"/>
<stop offset="0.0550" stop-color="#fcd68b"/>
<stop offset="0.0600" stop-color="#fcd588"/>
<stop offset="0.0650" stop-color="#fcd585"/>
<stop offset="0.0700" stop-color="#fcd583"/>
<stop offset="0.0750" stop-color="#fcd580"/>
<stop offset="0.0800" stop-color="#fdd57d"/>
<stop offset="0.0850" stop-color="#fdd57b"/>
<stop offset="0.0900" stop-color="#fdd578"/>
<stop offset="0.0950" stop-color="#fdd475"/>
<stop offset="0.1000" stop-color="#fdd473"/>
<stop offset="0.1050" stop-color="#fdd470"/>
<stop offset="0.1100" stop-color="#fdd46d"/>
<stop offset="0.1150" stop-color="#fdd46a"/>
<stop offset="0.1200" stop-color="#fdd366"/>
<stop offset="0.1250" stop-color="#fdd363"/>
<stop offset="0.1300" stop-color="#fdd35f"/>
<stop offset="0.1350" stop-color="#fdd35c"/>
<stop offset="0.1400" stop-color="#fdd358"/>
<stop offset="0.1450" stop-color="#fdd255"/>
<stop offset="0.1500" stop-color="#fdd251"/>
<stop offset="0.1550" stop-color="#fdd24f"/>
<stop offset="0.1600" stop-color="#fdd34c"/>
<stop offset="0.1650" stop-color="#fdd34a"/>
<stop offset="0.1700" stop-color="#fdd448"/>
<stop offset="0.1750" stop-color="#fdd546"/>
<stop offset="0.1800" stop-color="#fdd543"/>
<stop offset="0.1850" stop-color="#fdd641"/>
<stop offset="0.1900" stop-color="#fdd63f"/>
<stop offset="0.1950" stop-color="#fdd73c"/>
<stop offset="0.2000" stop-color="#fdd839"/>
<stop offset="0.2050" stop-color="#fdd935"/>
<stop offset="0.2100" stop-color="#fdda31"/>
<stop offset="0.2150" stop-color="#fedb2d"/>
<stop offset="0.2200" stop-color="#fedc29"/>
<stop offset="0.2250" stop-color="#fedd26"/>
<stop offset="0.2300" stop-color="#fede22"/>
<stop offset="0.2350" stop-color="#fedf1e"/>
<stop offset="0.2400" stop-color="#fee01a"/>
<stop offset="0.2450" stop-color="#ffe116"/>
<stop offset="0.2500" stop-color="#ffe212"/>
<stop offset="0.2550" stop-color="#ffe30e"/>
<stop offset="0.2600" stop-color="#ffe40b"/>
<stop offset="0.2650" stop-color="#ffe509"/>
<stop offset="0.2700" stop-color="#ffe708"/>
<stop offset="0.2750" stop-color="#ffe807"/>
<stop offset="0.2800" stop-color="#ffe906"/>
<stop offset="0.2850" stop-color="#ffeb04"/>
<stop offset="0.2900" stop-color="#ffec03"/>
<stop offset="0.2950" stop-color="#ffed02"/>
<stop offset="0.3000" stop-color="#ffef01"/>
<stop offset="0.3050" stop-color="#fff000"/>
<stop offset="0.3100" stop-color="#fff000"/>
<stop offset="0.3150" stop-color="#fff000"/>
<stop offset="0.3200" stop-color="#fff000"/>
<stop offset="0.3250" stop-color="#fff000"/>
<stop offset="0.3300" stop-color="#d8f300"/>
<stop offset="0.3350" stop-color="#d4f200"/>
<stop offset="0.3400" stop-color="#cff100"/>
<stop offset="0.3450" stop-color="#cbf000"/>
<stop offset="0.3500" stop-color="#c6ef00"/>
<stop offset="0.3550" stop-color="#c1ed00"/>
<stop offset="0.3600" stop-color="#bdec00"/>
<stop offset="0.3650" stop-color="#b8eb00"/>
<stop offset="0.3700" stop-color="#b4ea00"/>
<stop offset="0.3750" stop-color="#b0ea02"/>
<stop offset="0.3800" stop-color="#ade904"/>
<stop offset="0.3850" stop-color="#a9e906"/>
<stop offset="0.3900" stop-color="#a6e808"/>
<stop offset="0.3950" stop-color="#a2e809"/>
<stop offset="0.4000" stop-color="#9fe70b"/>
<stop offset="0.4050" stop-color="#9ce70d"/>
<stop offset="0.4100" stop-color="#98e60f"/>
<stop offset="0.4150" stop-color="#95e60f"/>
<stop offset="0.4200" stop-color="#91e60d"/>
<stop offset="0.4250" stop-color="#8ee70c"/>
<stop offset="0.4300" stop-color="#8ae70a"/>
<stop offset="0.4350" stop-color="#87e708"/>
<stop offset="0.4400" stop-color="#83e706"/>
<stop offset="0.4450" stop-color="#80e704"/>
<stop offset="0.4500" stop-color="#7ce802"/>
<stop offset="0.4550" stop-color="#79e801"/>
<stop offset="0.4600" stop-color="#6fe803"/>
<stop offset="0.4650" stop-color="#62e806"/>
<stop offset="0.4700" stop-color="#55e80a"/>
<stop offset="0.4750" stop-color="#48e80e"/>
<stop offset="0.4800" stop-color="#3de810"/>
<stop offset="0.4850" stop-color="#36e910"/>
<stop offset="0.4900" stop-color="#2fea10"/>
<stop offset="0.4950" stop-color="#27eb10"/>
<stop offset="0.5000" stop-color="#20ec10"/>
<stop offset="0.5050" stop-color="#1dec10"/>
<stop offset="0.5100" stop-color="#1bec11"/>
<stop offset="0.5150" stop-color="#18eb11"/>
<stop offset="0.5200" stop-color="#16eb12"/>
<stop offset="0.5250" stop-color="#13eb12"/>
<stop offset="0.5300" stop-color="#11eb13"/>
<stop offset="0.5350" stop-color="#0eea13"/>
<stop offset="0.5400" stop-color="#0cea14"/>
<stop offset="0.5450" stop-color="#0aea14"/>
<stop offset="0.5500" stop-color="#0aea15"/>
<stop offset="0.5550" stop-color="#09e915"/>
<stop offset="0.5600" stop-color="#09e916"/>
<stop offset="0.5650" stop-color="#09e916"/>
<stop offset="0.5700" stop-color="#09e916"/>
<stop offset="0.5750" stop-color="#09e917"/>
<stop offset="0.5800" stop-color="#08e817"/>
<stop offset="0.5850" stop-color="#08e818"/>
<stop offset="0.5900" stop-color="#09e81b"/>
<stop offset="0.5950" stop-color="#09e71f"/>
<stop offset="0.6000" stop-color="#0ae724"/>
<stop offset="0.6050" stop-color="#0be629"/>
<stop offset="0.6100" stop-color="#0ce62d"/>
<stop offset="0.6150" stop-color="#0de532"/>
<stop offset="0.6200" stop-color="#0ee536"/>
<stop offset="0.6250" stop-color="#0fe43b"/>
<stop offset="0.6300" stop-color="#10e440"/>
<stop offset="0.6350" stop-color="#10e440"/>
<stop offset="0.6400" stop-color="#10e440"/>
<stop offset="0.6450" stop-color="#10e440"/>
<stop offset="0.6500" stop-color="#10e440"/>
<stop offset="0.6550" stop-color="#20deff"/>
<stop offset="0.6600" stop-color="#1fdaff"/>
<stop offset="0.6650" stop-color="#1fd7ff"/>
<stop offset="0.6700" stop-color="#1fd3ff"/>
<stop offset="0.6750" stop-color="#1ecfff"/>
<stop offset="0.6800" stop-color="#1eccff"/>
<stop offset="0.6850" stop-color="#1ec8ff"/>
<stop offset="0.6900" stop-color="#1dc4ff"/>
<stop offset="0.6950" stop-color="#1dc0ff"/>
<stop offset="0.7000" stop-color="#1cbdff"/>
<stop offset="0.7050" stop-color="#1cb9ff"/>
<stop offset="0.7100" stop-color="#1cb5ff"/>
<stop offset="0.7150" stop-color="#1bb2ff"/>
<stop offset="0.7200" stop-color="#1baeff"/>
<stop offset="0.7250" stop-color="#1baaff"/>
<stop offset="0.7300" stop-color="#1aa7ff"/>
<stop offset="0.7350" stop-color="#1aa3ff"/>
<stop offset="0.7400" stop-color="#1a9fff"/>
<stop offset="0.7450" stop-color="#199cff"/>
<stop offset="0.7500" stop-color="#1998ff"/>
<stop offset="0.7550" stop-color="#1894ff"/>
<stop offset="0.7600" stop-color="#1891ff"/>
<stop offset="0.7650" stop-color="#178cff"/>
<stop offset="0.7700" stop-color="#1687ff"/>
<stop offset="0.7750" stop-color="#1581ff"/>
<stop offset="0.7800" stop-color="#147cff"/>
<stop offset="0.7850" stop-color="#1377ff"/>
<stop offset="0.7900" stop-color="#1272ff"/>
<stop offset="0.7950" stop-color="#106dff"/>
<stop offset="0.8000" stop-color="#0f68ff"/>
<stop offset="0.8050" stop-color="#0e63ff"/>
<stop offset="0.8100" stop-color="#0d5dff"/>
<stop offset="0.8150" stop-color="#0c58ff"/>
<stop offset="0.8200" stop-color="#0b53ff"/>
<stop offset="0.8250" stop-color="#0a4eff"/>
<stop offset="0.8300" stop-color="#0949ff"/>
<stop offset="0.8350" stop-color="#0844ff"/>
<stop offset="0.8400" stop-color="#073eff"/>
<stop offset="0.8450" stop-color="#0539ff"/>
<stop offset="0.8500" stop-color="#0434ff"/>
<stop offset="0.8550" stop-color="#032fff"/>
<stop offset="0.8600" stop-color="#022aff"/>
<stop offset="0.8650" stop-color="#0125ff"/>
<stop offset="0.8700" stop-color="#0020ff"/>
<stop offset="0.8750" stop-color="#021fff"/>
<stop offset="0.8800" stop-color="#031dff"/>
<stop offset="0.8850" stop-color="#051cff"/>
<stop offset="0.8900" stop-color="#061bff"/>
<stop offset="0.8950" stop-color="#081aff"/>
<stop offset="0.9000" stop-color="#0919ff"/>
<stop offset="0.9050" stop-color="#0b17ff"/>
<stop offset="0.9100" stop-color="#0c16ff"/>
<stop offset="0.9150" stop-color="#0e15ff"/>
<stop offset="0.9200" stop-color="#0f14ff"/>
<stop offset="0.9250" stop-color="#1112ff"/>
<stop offset="0.9300" stop-color="#1311ff"/>
<stop offset="0.9350" stop-color="#1410ff"/>
<stop offset="0.9400" stop-color="#1e12ff"/>
<stop offset="0.9450" stop-color="#2714ff"/>
<stop offset="0.9500" stop-color="#3016ff"/>
<stop offset="0.9550" stop-color="#3917ff"/>
<stop offset="0.9600" stop-color="#3d18ff"/>
<stop offset="0.9650" stop-color="#3e17ff"/>
<stop offset="0.9700" stop-color="#3e17ff"/>
<stop offset="0.9750" stop-color="#3f16ff"/>
<stop offset="0.9800" stop-color="#4016ff"/>
<stop offset="0.9850" stop-color="#4115ff"/>
<stop offset="0.9900" stop-color="#4215ff"/>
<stop offset="0.9950" stop-color="#4314ff"/>
<stop offset="1.0000" stop-color="#4414ff"/>
</linearGradient></defs>
<rect x="650" y="336.7" width="8" height="205.9" fill="url(#lg)"/>
<text x="661" y="332.9" class="axs2" style="font-size:11.3px;letter-spacing:0.45px">Year</text>
<text x="662.2" y="350" class="tk" style="font-size:8.8px">2021</text>
<text x="662.6" y="542.5" class="tk" style="font-size:8.8px">1975</text>
<line x1="671.4" y1="356" x2="671.4" y2="531.8" stroke="#a0a0a0" stroke-width="1.1"/>
<path d="M668.8 358.5L671.4 353L674 358.5Z" fill="#a0a0a0"/>
</svg>
</body></html>
